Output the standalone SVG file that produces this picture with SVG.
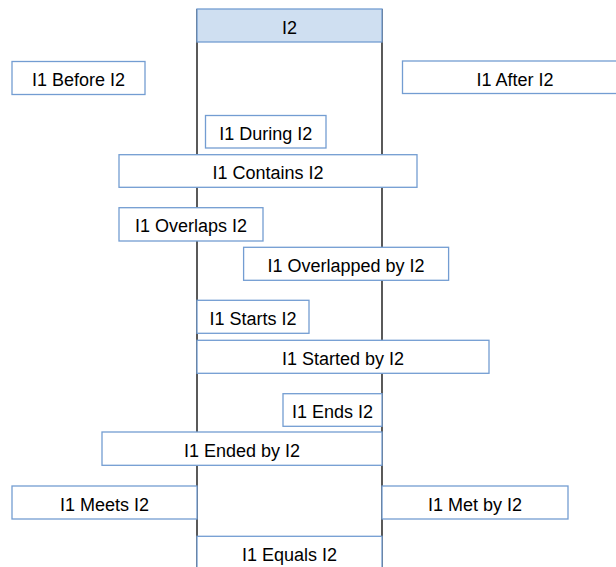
<svg xmlns="http://www.w3.org/2000/svg" width="616" height="567" viewBox="0 0 616 567">
<style>
.box{fill:#ffffff;stroke:#739dd2;stroke-width:1.3}
.hdr{fill:#cfdff1;stroke:#739dd2;stroke-width:1.3}
.col{stroke:#000000;stroke-width:1.3;fill:none}
text{font-family:"Liberation Sans",Arial,sans-serif;font-size:18px;fill:#000000;text-anchor:middle}
</style>
<rect width="616" height="567" fill="#ffffff"/>
<g id="connectors">
<line class="col" x1="197" y1="9" x2="197" y2="567"/>
<line class="col" x1="382" y1="9" x2="382" y2="567"/>
</g>
<g id="i2"><rect class="hdr" x="197" y="9" width="185" height="33"/><text x="289.5" y="33.5">I2</text></g>
<g id="before"><rect class="box" x="12" y="61.5" width="133" height="33"/><text x="78.5" y="86">I1 Before I2</text></g>
<g id="after"><rect class="box" x="402.5" y="61" width="226" height="32.5"/><text x="515" y="85.5">I1 After I2</text></g>
<g id="during"><rect class="box" x="205.5" y="115.5" width="120.5" height="32.5"/><text x="265.7" y="140">I1 During I2</text></g>
<g id="contains"><rect class="box" x="119" y="154.7" width="298" height="32.6"/><text x="268" y="179.3">I1 Contains I2</text></g>
<g id="overlaps"><rect class="box" x="119" y="207.7" width="144" height="33.3"/><text x="191" y="232.2">I1 Overlaps I2</text></g>
<g id="overlappedby"><rect class="box" x="243.6" y="247.3" width="205" height="33"/><text x="346" y="271.8">I1 Overlapped by I2</text></g>
<g id="starts"><rect class="box" x="197" y="300.3" width="112" height="33"/><text x="253" y="324.8">I1 Starts I2</text></g>
<g id="startedby"><rect class="box" x="197" y="340.3" width="292" height="33"/><text x="343" y="364.8">I1 Started by I2</text></g>
<g id="ends"><rect class="box" x="283" y="393.7" width="99" height="32.6"/><text x="332.5" y="418.2">I1 Ends I2</text></g>
<g id="endedby"><rect class="box" x="102" y="432" width="280" height="33.3"/><text x="242" y="456.5">I1 Ended by I2</text></g>
<g id="meets"><rect class="box" x="12" y="486" width="185" height="33"/><text x="104.5" y="510.5">I1 Meets I2</text></g>
<g id="metby"><rect class="box" x="382" y="486" width="186" height="33"/><text x="475" y="510.5">I1 Met by I2</text></g>
<g id="equals"><rect class="box" x="197" y="536.3" width="185" height="40"/><text x="289.5" y="561">I1 Equals I2</text></g>
</svg>
